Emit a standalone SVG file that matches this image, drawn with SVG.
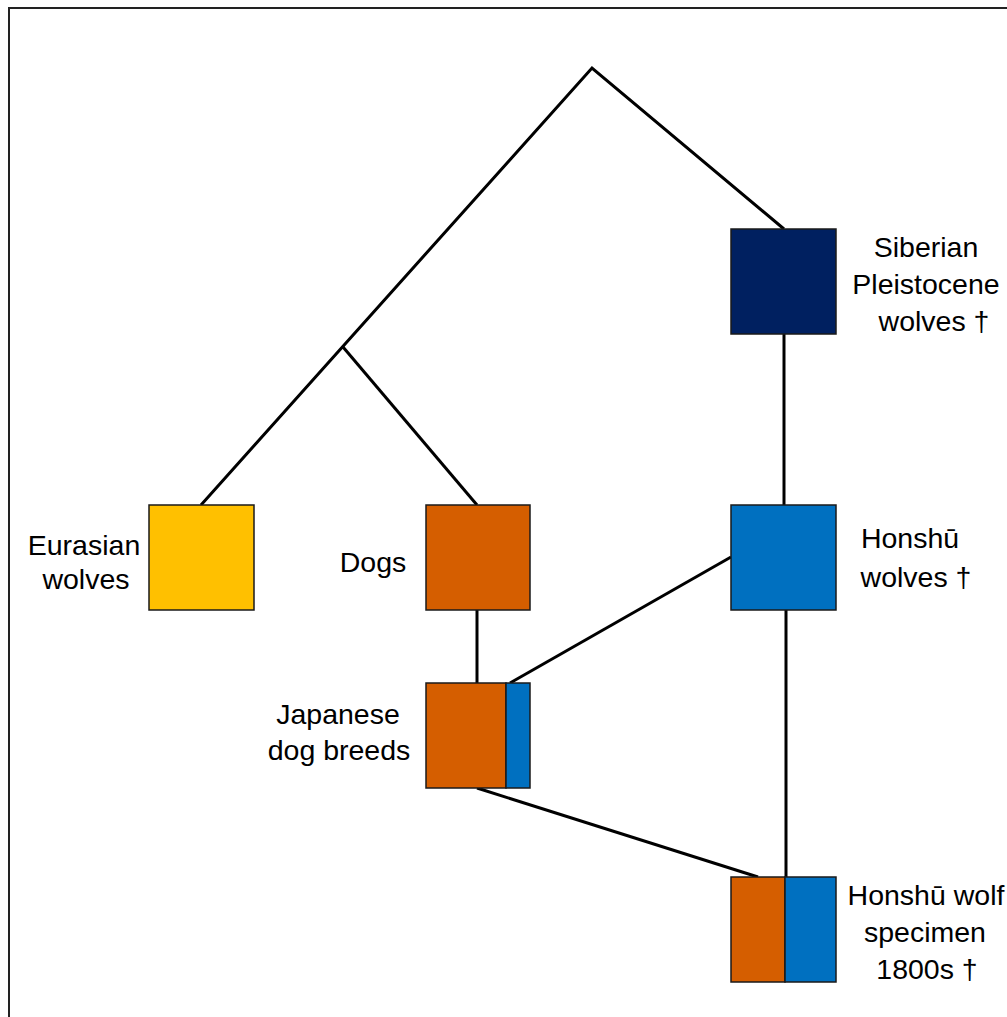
<svg xmlns="http://www.w3.org/2000/svg" width="1007" height="1017" viewBox="0 0 1007 1017">
<style>
.box{stroke:#1a1a1a;stroke-width:1.5}
.lbl{font-family:"Liberation Sans",Arial,sans-serif;font-size:28.5px;fill:#000;text-anchor:middle}
.edge{stroke:#000;stroke-width:3;fill:none;stroke-linejoin:miter}
</style>
<rect x="0" y="0" width="1007" height="1017" fill="#fff"/>
<rect x="9" y="8" width="1010" height="1020" fill="none" stroke="#222" stroke-width="2"/>
<g id="connectors">
<polyline class="edge" points="201,505 592,68 784,229"/>
<line class="edge" x1="343" y1="347" x2="477" y2="505"/>
<line class="edge" x1="784" y1="334" x2="784" y2="505"/>
<line class="edge" x1="477" y1="610" x2="477" y2="683"/>
<line class="edge" x1="731" y1="557" x2="510" y2="683"/>
<line class="edge" x1="786" y1="610" x2="786" y2="877"/>
<line class="edge" x1="477" y1="788" x2="758" y2="877"/>
</g>
<g id="siberian">
<rect class="box" x="731" y="229" width="105" height="105" fill="#002060"/>
<text class="lbl"><tspan x="926" y="257">Siberian</tspan><tspan x="926" y="294">Pleistocene</tspan><tspan x="934" y="331">wolves †</tspan></text>
</g>
<g id="eurasian">
<rect class="box" x="149" y="505" width="105" height="105" fill="#ffc000"/>
<text class="lbl"><tspan x="84" y="555">Eurasian</tspan><tspan x="86" y="589">wolves</tspan></text>
</g>
<g id="dogs">
<rect class="box" x="426" y="505" width="104" height="105" fill="#d55e00"/>
<text class="lbl" x="373" y="572">Dogs</text>
</g>
<g id="honshu">
<rect class="box" x="731" y="505" width="105" height="105" fill="#0070c0"/>
<text class="lbl"><tspan x="910" y="548">Honshū</tspan><tspan x="916" y="587">wolves †</tspan></text>
</g>
<g id="japanese">
<rect class="box" x="426" y="683" width="80" height="105" fill="#d55e00"/>
<rect class="box" x="506" y="683" width="24" height="105" fill="#0070c0"/>
<text class="lbl"><tspan x="338" y="724">Japanese</tspan><tspan x="339" y="760">dog breeds</tspan></text>
</g>
<g id="specimen">
<rect class="box" x="731" y="877" width="54" height="105" fill="#d55e00"/>
<rect class="box" x="785" y="877" width="51" height="105" fill="#0070c0"/>
<text class="lbl"><tspan x="926" y="905">Honshū wolf</tspan><tspan x="925" y="942">specimen</tspan><tspan x="927" y="979">1800s †</tspan></text>
</g>
</svg>
